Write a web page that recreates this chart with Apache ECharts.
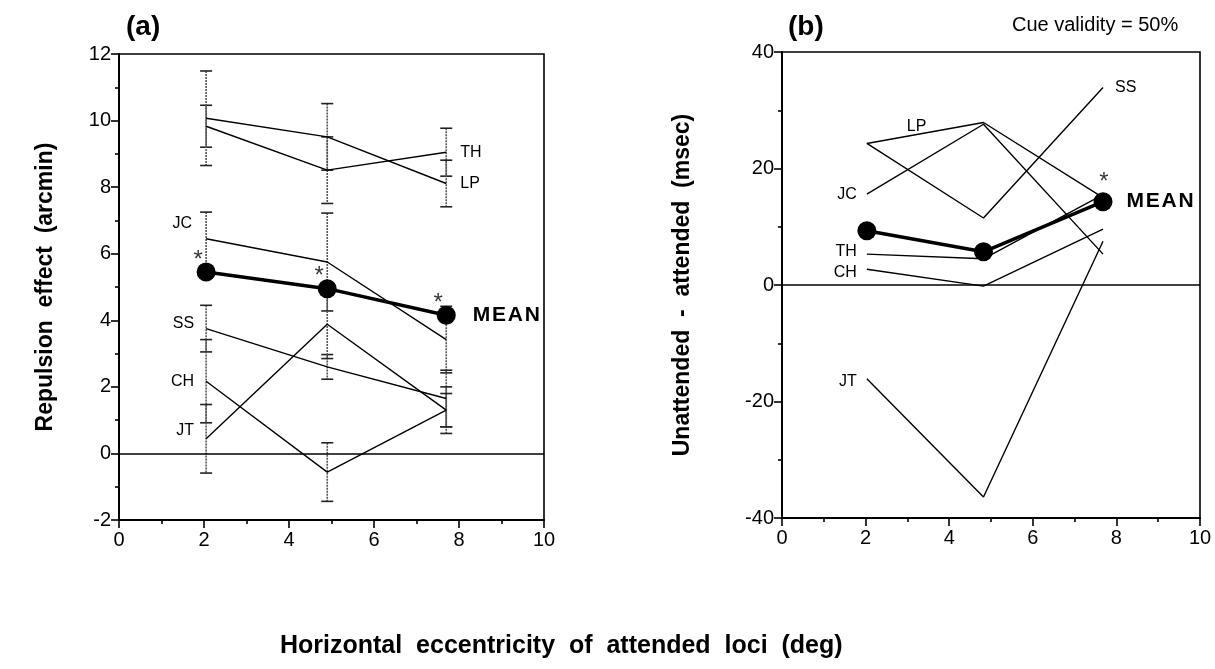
<!DOCTYPE html>
<html>
<head>
<meta charset="utf-8">
<script src="https://cdn.jsdelivr.net/npm/echarts@6/dist/echarts.min.js"></script>
<style>
  html, body { margin: 0; padding: 0; background: #fff; }
  #main { width: 1215px; height: 669px; }
</style>
</head>
<body>
<div id="main"></div>
<script>
// panel (a) - repulsion effect, arcmin
var xa = [2.05, 4.9, 7.7];
var a_TH = [9.83, 8.51, 9.05];
var a_TH_err = [0.63, 1.0, 0.72];
var a_LP = [10.07, 9.51, 8.11];
var a_LP_err = [1.42, 1.0, 0.7];
var a_JC = [6.45, 5.75, 3.42];
var a_JC_err = [0.8, 1.47, 1.0];
var a_SS = [3.75, 2.6, 1.65];
var a_SS_err = [0.7, 0.37, 0.85];
var a_CH = [2.17, -0.56, 1.3];
var a_CH_err = [1.25, 0.88, 0.7];
var a_JT = [0.44, 3.88, 1.3];
var a_JT_err = [1.03, 1.03, 0.5];
var a_MEAN = [5.45, 4.95, 4.15];
var a_star = [true, true, true];

// panel (b) - unattended minus attended, msec
var xb = [2.03, 4.82, 7.68];
var b_LP = [24.3, 27.9, 15.0];
var b_JC = [15.6, 27.6, 5.3];
var b_SS = [24.3, 11.5, 33.9];
var b_TH = [5.3, 4.5, 15.5];
var b_CH = [2.7, -0.2, 9.6];
var b_JT = [-16.1, -36.4, 7.5];
var b_MEAN = [9.3, 5.7, 14.3];
var b_star = [false, false, true];

var FONT = 'Liberation Sans';

var chart = echarts.init(document.getElementById('main'));

function pts(xs, ys) {
    var out = [];
    for (var i = 0; i < ys.length; i++) out.push([xs[i], ys[i]]);
    return out;
}

// thin subject line, with its name written at one point
function subjLine(name, xs, ys, gi, at, pos, dist, off) {
    var data = pts(xs, ys);
    data[at] = {
        value: data[at],
        label: { show: true, formatter: name, position: pos, distance: dist,
                 offset: off || [0, 0], color: '#000', fontSize: 16, fontFamily: FONT }
    };
    return {
        type: 'line', name: name, xAxisIndex: gi, yAxisIndex: gi,
        data: data, showSymbol: true, symbol: 'circle', symbolSize: 0,
        silent: true, animation: false,
        lineStyle: { color: '#000', width: 1.4 },
        itemStyle: { color: '#000' },
        label: { show: false }
    };
}

function meanLine(xs, ys, gi, dist) {
    var data = pts(xs, ys).map(function (p, i) {
        var item = { value: p };
        if (i == ys.length - 1) {
            item.label = { show: true, position: 'right', distance: dist,
                           formatter: 'M\u200AE\u200AA\u200AN',
                           fontSize: 21, fontWeight: 'bold', color: '#000', fontFamily: FONT };
        }
        return item;
    });
    return {
        type: 'line', name: 'MEAN', xAxisIndex: gi, yAxisIndex: gi,
        data: data, symbol: 'circle', symbolSize: 19, showSymbol: true,
        silent: true, animation: false, z: 5,
        lineStyle: { color: '#000', width: 3.5 },
        itemStyle: { color: '#000' },
        markLine: {
            silent: true, symbol: 'none', animation: false,
            label: { show: false },
            lineStyle: { color: '#000', type: 'solid', width: 1.6 },
            data: [{ yAxis: 0 }]
        }
    };
}

// significance stars over the mean points
function stars(xs, ys, flags, gi, off) {
    var data = [];
    for (var i = 0; i < ys.length; i++) {
        if (flags[i]) data.push([xs[i], ys[i]]);
    }
    return {
        type: 'scatter', xAxisIndex: gi, yAxisIndex: gi, symbolSize: 0,
        silent: true, animation: false, z: 6,
        data: data,
        label: { show: true, formatter: '*', position: 'inside', offset: off,
                 fontSize: 24, color: '#000', fontFamily: FONT }
    };
}

function errBars(xs, ys, errs, gi) {
    var data = [];
    for (var i = 0; i < ys.length; i++) data.push([xs[i], ys[i], errs[i]]);
    return {
        type: 'custom', xAxisIndex: gi, yAxisIndex: gi, silent: true, animation: false,
        encode: { x: 0, y: 1 },
        data: data,
        renderItem: function (params, api) {
            var x = api.value(0), y = api.value(1), e = api.value(2);
            var hi = api.coord([x, y + e]);
            var lo = api.coord([x, y - e]);
            var w = 6;
            return {
                type: 'group',
                children: [
                    { type: 'line', shape: { x1: hi[0], y1: hi[1], x2: lo[0], y2: lo[1] },
                      style: { stroke: '#555', lineWidth: 1.6, lineDash: [2, 1] } },
                    { type: 'line', shape: { x1: hi[0] - w, y1: hi[1], x2: hi[0] + w, y2: hi[1] },
                      style: { stroke: '#222', lineWidth: 1.6 } },
                    { type: 'line', shape: { x1: lo[0] - w, y1: lo[1], x2: lo[0] + w, y2: lo[1] },
                      style: { stroke: '#222', lineWidth: 1.6 } }
                ]
            };
        }
    };
}

var axisText = { color: '#000', fontSize: 20, fontFamily: FONT };
var tickLine = { color: '#000', width: 1.6 };

function xAx(gi) {
    return {
        gridIndex: gi, type: 'value', min: 0, max: 10, interval: 2,
        axisLine: { show: true, onZero: false, lineStyle: { color: '#000', width: 2 } },
        axisTick: { show: true, length: 8, lineStyle: tickLine },
        minorTick: { show: true, splitNumber: 2, length: 4, lineStyle: tickLine },
        axisLabel: Object.assign({ margin: 10 }, axisText),
        splitLine: { show: false }
    };
}

function yAx(gi, min, max, step, name, gap) {
    return {
        gridIndex: gi, type: 'value', min: min, max: max, interval: step,
        name: name, nameLocation: 'middle', nameGap: gap, nameRotate: 90,
        nameTextStyle: { color: '#000', fontSize: 23, fontWeight: 'bold', fontFamily: FONT },
        axisLine: { show: true, onZero: false, lineStyle: { color: '#000', width: 2 } },
        axisTick: { show: true, length: 8, lineStyle: tickLine },
        minorTick: { show: true, splitNumber: 2, length: 4, lineStyle: tickLine },
        axisLabel: Object.assign({ margin: 8 }, axisText),
        splitLine: { show: false }
    };
}

var option = {
    backgroundColor: '#fff',
    animation: false,
    title: [
        { text: '(a)', left: 126, top: 13, padding: 0, textStyle: { fontSize: 28, fontWeight: 'bold', color: '#000', fontFamily: FONT } },
        { text: '(b)', left: 788, top: 13, padding: 0, textStyle: { fontSize: 28, fontWeight: 'bold', color: '#000', fontFamily: FONT } },
        { text: 'Cue validity = 50%', left: 1012, top: 15, padding: 0, textStyle: { fontSize: 20, fontWeight: 'normal', color: '#000', fontFamily: FONT } },
        { text: 'Horizontal  eccentricity  of  attended  loci  (deg)', left: 280, top: 634, padding: 0,
          textStyle: { fontSize: 25, fontWeight: 'bold', color: '#000', fontFamily: FONT } }
    ],
    grid: [
        { left: 119, top: 54, width: 425, height: 466, show: true, borderColor: '#000', borderWidth: 1.6, backgroundColor: 'transparent' },
        { left: 782, top: 52, width: 418, height: 466, show: true, borderColor: '#000', borderWidth: 1.6, backgroundColor: 'transparent' }
    ],
    xAxis: [xAx(0), xAx(1)],
    yAxis: [
        yAx(0, -2, 12, 2, 'Repulsion  effect  (arcmin)', 62),
        yAx(1, -40, 40, 20, 'Unattended  -  attended  (msec)', 88)
    ],
    series: [
        errBars(xa, a_TH, a_TH_err, 0),
        errBars(xa, a_LP, a_LP_err, 0),
        errBars(xa, a_JC, a_JC_err, 0),
        errBars(xa, a_SS, a_SS_err, 0),
        errBars(xa, a_CH, a_CH_err, 0),
        errBars(xa, a_JT, a_JT_err, 0),
        subjLine('TH', xa, a_TH, 0, 2, 'right', 14),
        subjLine('LP', xa, a_LP, 0, 2, 'right', 14),
        subjLine('JC', xa, a_JC, 0, 0, 'left', 14, [0, -15]),
        subjLine('SS', xa, a_SS, 0, 0, 'left', 12, [0, -5]),
        subjLine('CH', xa, a_CH, 0, 0, 'left', 12, [0, 0]),
        subjLine('JT', xa, a_JT, 0, 0, 'left', 12, [0, -8]),
        meanLine(xa, a_MEAN, 0, 17),
        stars(xa, a_MEAN, a_star, 0, [-8, -12]),

        subjLine('LP', xb, b_LP, 1, 0, 'right', 0, [40, -17]),
        subjLine('JC', xb, b_JC, 1, 0, 'left', 10),
        subjLine('SS', xb, b_SS, 1, 2, 'right', 12),
        subjLine('TH', xb, b_TH, 1, 0, 'left', 10, [0, -3]),
        subjLine('CH', xb, b_CH, 1, 0, 'left', 10, [0, 3]),
        subjLine('JT', xb, b_JT, 1, 0, 'left', 10, [0, 3]),
        meanLine(xb, b_MEAN, 1, 14),
        stars(xb, b_MEAN, b_star, 1, [1, -19])
    ]
};

chart.setOption(option);
</script>
</body>
</html>
